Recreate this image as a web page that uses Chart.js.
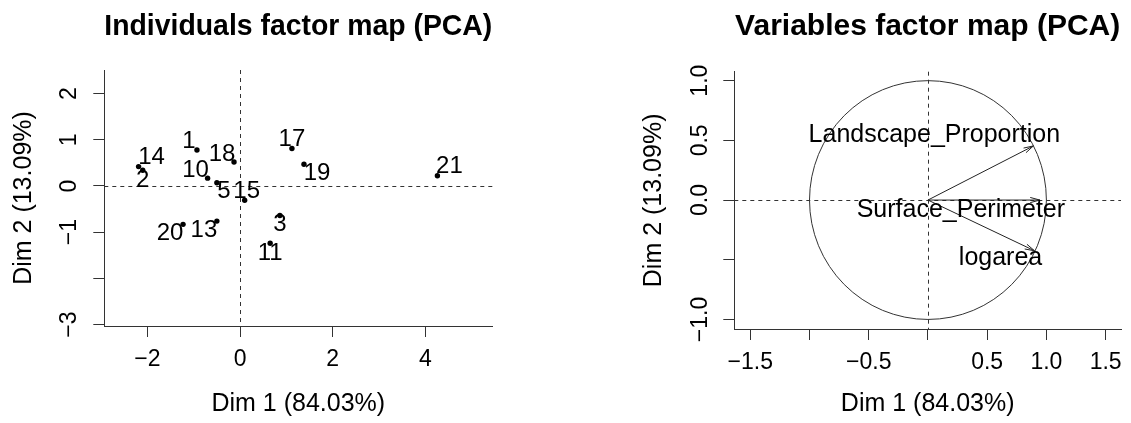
<!DOCTYPE html>
<html>
<head>
<meta charset="utf-8">
<script src="https://cdn.jsdelivr.net/npm/chart.js@4.4.1/dist/chart.umd.min.js"></script>
<style>
    html, body { margin: 0; padding: 0; background: #fff; overflow: hidden; }
    #wrap { position: relative; width: 1131px; height: 423px; }
    #ind { position: absolute; left: 0; top: 0; }
    #var { position: absolute; left: 565px; top: 0; }
</style>
</head>
<body>
<div id="wrap">
    <canvas id="ind" width="565" height="423"></canvas>
    <canvas id="var" width="566" height="423"></canvas>
</div>
<script>
// individuos (coordenadas en Dim 1 / Dim 2)
const indNames = ['1', '2', '3', '5', '10', '11', '13', '14', '15', '17', '18', '19', '20', '21'];
const indDim1 = [-0.93, -2.10, 0.86, -0.50, -0.70, 0.65, -0.50, -2.19, 0.10, 1.12, -0.13, 1.38, -1.23, 4.26];
const indDim2 = [0.78, 0.34, -0.64, 0.07, 0.17, -1.24, -0.76, 0.42, -0.31, 0.81, 0.52, 0.47, -0.83, 0.22];

// variables (flechas)
const varNames = ['Landscape_Proportion', 'Surface_Perimeter', 'logarea'];
const varDim1 = [0.89, 0.945, 0.90];
const varDim2 = [0.453, 0.0, -0.425];

// marcas de los ejes
const indXTicks = [-2, 0, 2, 4];
const indXLabels = ['\u22122', '0', '2', '4'];
const indYTicks = [-3, -2, -1, 0, 1, 2];
const indYLabels = ['\u22123', '', '\u22121', '0', '1', '2'];
const varXTicks = [-1.5, -1, -0.5, 0, 0.5, 1, 1.5];
const varXLabels = ['\u22121.5', '', '\u22120.5', '', '0.5', '1.0', '1.5'];
const varYTicks = [-1, -0.5, 0, 0.5, 1];
const varYLabels = ['\u22121.0', '', '0.0', '0.5', '1.0'];

// desplazamiento de las etiquetas (px)
const indNudge = {
    '1': [-8, -9], '2': [0, 10], '3': [0, 9], '5': [7, 9], '10': [-12, -8], '11': [0, 10], '13': [-13, 9],
    '14': [13, -9], '15': [2, -9], '17': [0, -9], '18': [-12, -8], '19': [13, 9], '20': [-13, 9], '21': [12, -9]
};
const varNudge = {
    'Landscape_Proportion': [-99, -11], 'Surface_Perimeter': [-79, 10], 'logarea': [-34, 7]
};

const fuente = "'Liberation Sans', Arial, Helvetica, sans-serif";

// lineas discontinuas en 0
const lineasCero = {
    id: 'lineasCero',
    beforeDatasetsDraw(chart) {
        const { ctx, chartArea: a, scales: { x, y } } = chart;
        const px = x.getPixelForValue(0), py = y.getPixelForValue(0);
        ctx.save();
        ctx.strokeStyle = '#333';
        ctx.lineWidth = 1;
        ctx.setLineDash([4, 4]);
        ctx.beginPath();
        ctx.moveTo(a.left, Math.round(py) + 0.5);
        ctx.lineTo(a.right, Math.round(py) + 0.5);
        ctx.moveTo(Math.round(px) + 0.5, a.top);
        ctx.lineTo(Math.round(px) + 0.5, a.bottom);
        ctx.stroke();
        ctx.restore();
    }
};

function opciones(p) {
    return {
        responsive: false,
        animation: false,
        events: [],
        layout: { padding: { left: 0, right: p.padRight, top: 0, bottom: 0 } },
        plugins: {
            legend: { display: false },
            tooltip: { enabled: false },
            title: {
                display: true,
                fullSize: false,
                text: p.titulo,
                color: '#000',
                font: { family: fuente, size: 30, weight: 'bold', lineHeight: 1.2 },
                padding: { top: 8.3, bottom: p.titlePadBottom }
            }
        },
        scales: {
            x: {
                type: 'linear',
                position: 'bottom',
                min: p.xMin,
                max: p.xMax,
                afterBuildTicks: s => { s.ticks = p.xTicks.map(v => ({ value: v })); },
                afterFit: s => { s.height = p.xHeight; },
                ticks: {
                    autoSkip: false, maxRotation: 0, minRotation: 0, padding: 9, color: '#000',
                    font: { family: fuente, size: 23 },
                    callback: (v, i) => p.xLabels[i]
                },
                grid: { drawOnChartArea: false, drawTicks: true, tickLength: 11, color: '#333', lineWidth: 1 },
                border: { display: true, color: '#333', width: 1 },
                title: {
                    display: true, text: 'Dim 1 (84.03%)', color: '#000',
                    font: { family: fuente, size: 25, lineHeight: 1 },
                    padding: { top: 0, bottom: 6 }
                }
            },
            y: {
                type: 'linear',
                position: 'left',
                min: p.yMin,
                max: p.yMax,
                afterBuildTicks: s => { s.ticks = p.yTicks.map(v => ({ value: v })); },
                afterFit: s => { s.width = p.yWidth; },
                ticks: {
                    autoSkip: false, minRotation: 90, maxRotation: 90, crossAlign: 'center',
                    padding: p.yTickPad, color: '#000',
                    font: { family: fuente, size: 23 },
                    callback: (v, i) => p.yLabels[i]
                },
                grid: { drawOnChartArea: false, drawTicks: true, tickLength: 11, color: '#333', lineWidth: 1 },
                border: { display: true, color: '#333', width: 1 },
                title: {
                    display: true, text: 'Dim 2 (13.09%)', color: '#000',
                    font: { family: fuente, size: 25, lineHeight: 1 },
                    padding: { top: p.yTitlePad, bottom: 0 }
                }
            }
        }
    };
}

// ---- mapa de individuos ----
const etiquetasInd = {
    id: 'etiquetasInd',
    afterDatasetsDraw(chart) {
        const ctx = chart.ctx;
        const meta = chart.getDatasetMeta(0);
        ctx.save();
        ctx.fillStyle = '#000';
        ctx.font = '24px ' + fuente;
        ctx.textAlign = 'center';
        ctx.textBaseline = 'middle';
        meta.data.forEach(function(pt, i) {
            const d = indNudge[indNames[i]] || [0, -9];
            ctx.fillText(indNames[i], pt.x + d[0], pt.y + d[1]);
        });
        ctx.restore();
    }
};

new Chart(document.getElementById('ind'), {
    type: 'scatter',
    data: {
        datasets: [{
            data: indDim1.map((v, i) => ({ x: v, y: indDim2[i] })),
            pointRadius: 2.7,
            pointBackgroundColor: '#000',
            pointBorderWidth: 0
        }]
    },
    options: opciones({
        titulo: 'Individuals factor map (PCA)',
        xMin: -2.93, xMax: 5.445, yMin: -3.03, yMax: 2.51,
        xTicks: indXTicks, xLabels: indXLabels, yTicks: indYTicks, yLabels: indYLabels,
        yWidth: 104.3, xHeight: 97, padRight: 72.7, titlePadBottom: 25.7,
        yTickPad: 10.9, yTitlePad: 12.1
    }),
    plugins: [lineasCero, etiquetasInd]
});

// ---- mapa de variables ----
const circuloFlechas = {
    id: 'circuloFlechas',
    beforeDatasetsDraw(chart) {
        const { ctx, scales: { x, y } } = chart;
        const cx = x.getPixelForValue(0), cy = y.getPixelForValue(0);
        const rx = x.getPixelForValue(1) - cx, ry = cy - y.getPixelForValue(1);
        ctx.save();
        ctx.strokeStyle = '#333';
        ctx.lineWidth = 1;
        ctx.beginPath();
        ctx.ellipse(cx, cy, rx, ry, 0, 0, Math.PI * 2);
        ctx.stroke();
        ctx.restore();
    },
    afterDatasetsDraw(chart) {
        const ctx = chart.ctx;
        ctx.save();
        ctx.strokeStyle = '#222';
        ctx.lineWidth = 1;
        chart.data.datasets.forEach(function(ds, k) {
            const pts = chart.getDatasetMeta(k).data;
            const o = pts[0], t = pts[1];
            const ang = Math.atan2(t.y - o.y, t.x - o.x);
            ctx.beginPath();
            [-1, 1].forEach(function(s) {
                const a = ang + Math.PI + s * Math.PI / 12;
                ctx.moveTo(t.x, t.y);
                ctx.lineTo(t.x + 10 * Math.cos(a), t.y + 10 * Math.sin(a));
            });
            ctx.stroke();
        });
        ctx.fillStyle = '#000';
        ctx.font = '25px ' + fuente;
        ctx.textAlign = 'center';
        ctx.textBaseline = 'middle';
        chart.data.datasets.forEach(function(ds, k) {
            const t = chart.getDatasetMeta(k).data[1];
            const d = varNudge[varNames[k]];
            ctx.fillText(varNames[k], t.x + d[0], t.y + d[1]);
        });
        ctx.restore();
    }
};

new Chart(document.getElementById('var'), {
    type: 'scatter',
    data: {
        datasets: varNames.map((n, i) => ({
            label: n,
            data: [{ x: 0, y: 0 }, { x: varDim1[i], y: varDim2[i] }],
            showLine: true,
            borderColor: '#222',
            borderWidth: 1,
            pointRadius: 0
        }))
    },
    options: opciones({
        titulo: 'Variables factor map (PCA)',
        xMin: -1.635, xMax: 1.63, yMin: -1.08, yMax: 1.075,
        xTicks: varXTicks, xLabels: varXLabels, yTicks: varYTicks, yLabels: varYLabels,
        yWidth: 169.3, xHeight: 94, padRight: 7.7, titlePadBottom: 27.4,
        yTickPad: 0, yTitlePad: 76.4
    }),
    plugins: [lineasCero, circuloFlechas]
});
</script>
</body>
</html>
